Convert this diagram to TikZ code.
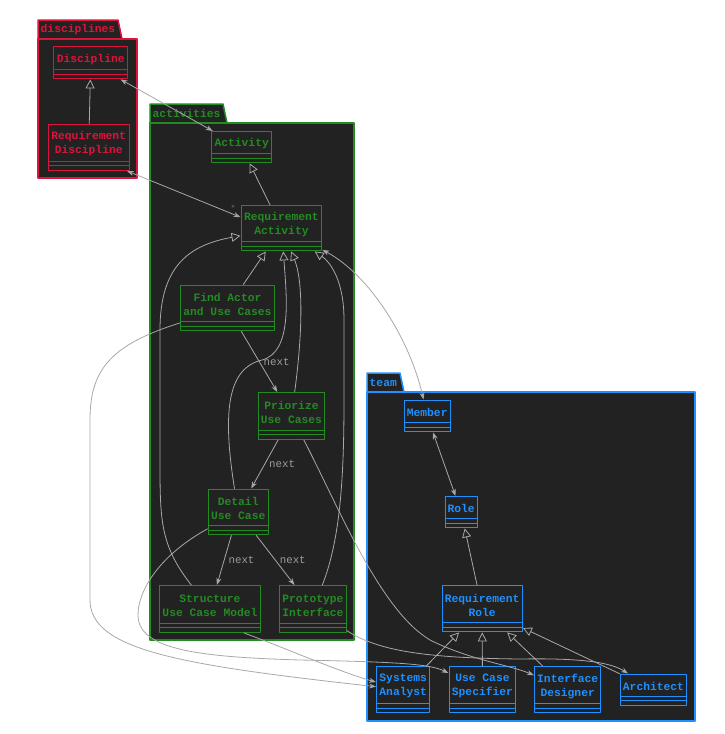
\documentclass[tikz,border=0pt]{standalone}
\usepackage{fontspec}
\setmonofont{Liberation Mono}
\usetikzlibrary{arrows.meta}

\definecolor{discRed}{HTML}{DC143C}
\definecolor{actGreen}{HTML}{228B22}
\definecolor{teamBlue}{HTML}{1E90FF}
\definecolor{panelGrey}{HTML}{222222}
\definecolor{linkGrey}{HTML}{A8A8A8}
\definecolor{noteGrey}{HTML}{9C9C9C}
\definecolor{starGrey}{HTML}{7890B0}

\tikzset{
  pkgframe/.style={draw=#1, fill=panelGrey, line width=1.5pt, line join=round},
  pkgname/.style={text=#1, font=\fontsize{11.3}{14}\selectfont\ttfamily\bfseries, inner sep=1.5pt, anchor=west},
  classbox/.style={draw=#1, fill=panelGrey, line width=1.4pt, inner sep=0pt,
    path picture={
      \draw[#1, line width=1.2pt] ([yshift=9pt]path picture bounding box.south west) -- ([yshift=9pt]path picture bounding box.south east);
      \draw[#1, line width=1.2pt] ([yshift=4.6pt]path picture bounding box.south west) -- ([yshift=4.6pt]path picture bounding box.south east);
    }},
  classname/.style={text=#1, align=center, inner sep=0pt, font=\fontsize{11.3}{14.3}\selectfont\ttfamily\bfseries},
  link/.style={draw=linkGrey, line width=0.8pt},
  assoc/.style={link, -{Stealth[length=7pt, width=5pt]}},
  twoway/.style={link, {Stealth[length=7pt, width=5pt]}-{Stealth[length=7pt, width=5pt]}},
  extends/.style={link, -{Triangle[open, length=9pt, width=9pt]}},
  nextlabel/.style={text=noteGrey, font=\fontsize{10.8}{13}\selectfont\ttfamily, inner sep=4pt}
}

% colour, name, left, top, width, height, text
\newcommand{\umlclass}[7]{%
  \node[classbox=#1, minimum width=#5pt, minimum height=#6pt, anchor=north west] (#2) at (#3,#4) {};
  \node[classname=#1] (#2-name) at ([yshift=3.5pt]#2.center) {#7};
}
% colour, name, left, tab top, tab right, body top, right, bottom, label
\newcommand{\umlpackage}[9]{%
  \filldraw[pkgframe=#1] (#3,#6) -- (#3,#4) -- (#5,#4) -- ({#5+4},#6) -- cycle;
  \filldraw[pkgframe=#1] (#3,#6) rectangle (#7,#8);
  \node[pkgname=#1] (#2) at ({#3+1},{(#4+#6)/2}) {#9};
}

\begin{document}
\begin{tikzpicture}
% coordinates are pixels of the requirements model diagram, y downwards
\begin{scope}[x=1pt, y=-1pt, line cap=round, line join=round]
  \useasboundingbox (0,0) rectangle (725,734);
  % Packages
  \umlpackage{discRed}{pkgdisc}{38}{20}{118}{39}{137}{178}{disciplines}
  \umlpackage{actGreen}{pkgact}{150}{104}{223}{123}{354}{640}{activities}
  \umlpackage{teamBlue}{pkgteam}{367}{373}{400}{392}{695}{721}{team}
  % Classes: disciplines
  \umlclass{discRed}{disc}{53}{46}{74}{32}{Discipline}
  \umlclass{discRed}{reqdisc}{47.5}{123.5}{81}{46}{Requirement\\Discipline}
  % Classes: activities
  \umlclass{actGreen}{act}{211}{131}{60}{31}{Activity}
  \umlclass{actGreen}{reqact}{240.5}{205}{80.5}{45}{Requirement\\Activity}
  \umlclass{actGreen}{findactor}{180}{284.5}{93.5}{45.5}{Find Actor\\and Use Cases}
  \umlclass{actGreen}{priorize}{257.5}{392}{66.5}{46.5}{Priorize\\Use Cases}
  \umlclass{actGreen}{detail}{207.5}{488.5}{60}{45.5}{Detail\\Use Case}
  \umlclass{actGreen}{structure}{158.5}{585}{101.5}{46.5}{Structure\\Use Case Model}
  \umlclass{actGreen}{prototype}{279}{585}{66.5}{46.5}{Prototype\\Interface}
  % Classes: team
  \umlclass{teamBlue}{member}{403.5}{399.5}{46}{31.5}{Member}
  \umlclass{teamBlue}{role}{444.5}{496}{32}{31}{Role}
  \umlclass{teamBlue}{reqrole}{441.5}{585}{80}{46}{Requirement\\Role}
  \umlclass{teamBlue}{sysanalyst}{376}{666}{53}{46}{Systems\\Analyst}
  \umlclass{teamBlue}{ucspec}{448.5}{666}{66.5}{46}{Use Case\\Specifier}
  \umlclass{teamBlue}{ifdesigner}{534}{666}{66}{46}{Interface\\Designer}
  \umlclass{teamBlue}{architect}{619.5}{673.5}{66.5}{31}{Architect}
  % Generalisations
  \draw[extends] (reqdisc) -- (disc);
  \draw[extends] (reqact) -- (act);
  \draw[extends] (findactor) -- (reqact);
  \draw[extends] (priorize) .. controls (303,330) and (303,280) .. (reqact);
  \draw[extends] (detail) .. controls (222,410) and (228,368) .. (262,360) .. controls (292,352) and (287,300) .. (reqact);
  \draw[extends] (structure) .. controls (160,545) and (160,520) .. (160,460) -- (160,330) .. controls (160,265) and (190,245) .. (reqact);
  \draw[extends] (prototype) .. controls (340,540) and (344,480) .. (344,400) -- (344,320) .. controls (344,280) and (330,262) .. (reqact);
  \draw[extends] (reqrole) -- (role);
  \foreach \who in {sysanalyst,ucspec,ifdesigner,architect}
    \draw[extends] (\who) -- (reqrole);
  % Associations
  \draw[twoway] (disc) -- (act);
  \draw[twoway] ([xshift=-3pt]reqdisc.south east) -- ([yshift=11pt]reqact.west);
  \node[text=starGrey, font=\scriptsize, inner sep=0pt] (mult) at (233,208) {*};
  \draw[twoway] (reqact) .. controls (370,275) and (410,340) .. (member);
  \draw[twoway] (member) -- (role);
  % Activity order
  \draw[assoc] (findactor) -- node[nextlabel, right] (next1) {next} (priorize);
  \draw[assoc] (priorize) -- node[nextlabel, right] (next2) {next} (detail);
  \draw[assoc] (detail) -- node[nextlabel, right] (next3) {next} (structure);
  \draw[assoc] (detail) -- node[nextlabel, right] (next4) {next} (prototype);
  % Activities performed by roles
  \draw[assoc] (findactor) .. controls (110,345) and (90,370) .. (90,420) -- (90,600) .. controls (90,650) and (180,665) .. (sysanalyst);
  \draw[assoc] ([xshift=34pt]structure.south) .. controls (290,650) and (340,672) .. (sysanalyst);
  \draw[assoc] (detail) .. controls (160,555) and (138,590) .. (138,615) .. controls (138,650) and (200,657) .. (300,660) .. controls (400,662) and (430,664) .. (ucspec);
  \draw[assoc] (priorize) .. controls (340,510) and (380,610) .. (430,640) .. controls (470,660) and (510,665) .. (ifdesigner);
  \draw[assoc] (prototype) .. controls (380,652) and (430,658) .. (520,659) .. controls (580,658) and (610,662) .. (architect);
\end{scope}
\end{tikzpicture}
\end{document}
